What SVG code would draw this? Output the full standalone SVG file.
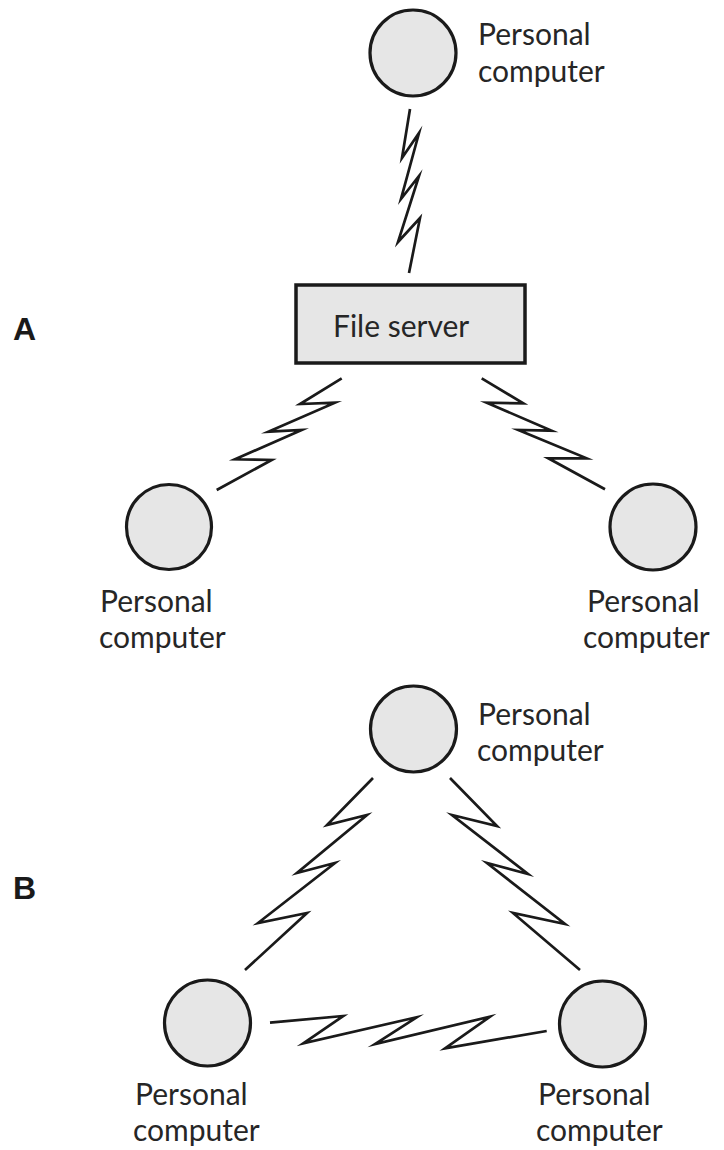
<svg xmlns="http://www.w3.org/2000/svg" width="724" height="1150" viewBox="0 0 724 1150">
<style>
.pc{fill:#e6e6e6;stroke:#1a1a1a;stroke-width:3.2}
.srv{fill:#e6e6e6;stroke:#1a1a1a;stroke-width:3.5}
.lbl{font-family:Lato,"Open Sans","Liberation Sans",sans-serif;font-size:30px;fill:#262626}
.sec{font-family:"Liberation Sans",Arial,sans-serif;font-size:32px;font-weight:bold;fill:#1a1a1a}
.zz{fill:none;stroke:#1a1a1a;stroke-width:2.7;stroke-linejoin:miter;stroke-miterlimit:10}
</style>
<rect width="724" height="1150" fill="#ffffff"/>
<text class="sec" x="13" y="340">A</text>
<text class="sec" x="13" y="899">B</text>
<g id="connectors">
<path class="zz" d="M410,109 L402,158 L419,133 L401,199 L419,176 L398,242 L420,218 L409,273"/>
<path class="zz" d="M341.7,378.3 L300,404 L335,402.7 L268.3,431.7 L301.7,430 L235,459.3 L271.7,460 L216.7,490"/>
<path class="zz" d="M481.7,378.3 L523.3,403.3 L486.7,402.7 L551.7,430.7 L518.3,430 L586.7,458.3 L548.3,458.3 L605,489.3"/>
<path class="zz" d="M373,778 L327,825 L367,815 L297,873 L335,863 L258,923 L307,913 L245,970"/>
<path class="zz" d="M450,778 L497,826 L452,815 L528,874 L487,863 L565,924 L513,913 L580,970"/>
<path class="zz" d="M270,1022.7 L343.3,1016 L303.3,1043.3 L416.7,1017.3 L375,1044 L490,1016.7 L445,1048.3 L546.7,1031"/>
</g>
<g id="pc-a-top">
<circle class="pc" cx="413" cy="53" r="43"/>
<text class="lbl" x="478" y="45">Personal</text>
<text class="lbl" x="478" y="82">computer</text>
</g>
<g id="file-server">
<rect class="srv" x="296" y="285" width="229" height="78"/>
<text class="lbl" x="333" y="337">File server</text>
</g>
<g id="pc-a-left">
<circle class="pc" cx="169" cy="527" r="42.5"/>
<text class="lbl" x="100" y="612">Personal</text>
<text class="lbl" x="99" y="648">computer</text>
</g>
<g id="pc-a-right">
<circle class="pc" cx="653" cy="527" r="43"/>
<text class="lbl" x="587" y="612">Personal</text>
<text class="lbl" x="583" y="648">computer</text>
</g>
<g id="pc-b-top">
<circle class="pc" cx="413.5" cy="729" r="43"/>
<text class="lbl" x="478" y="725">Personal</text>
<text class="lbl" x="477" y="761">computer</text>
</g>
<g id="pc-b-left">
<circle class="pc" cx="207.5" cy="1023" r="43"/>
<text class="lbl" x="135" y="1105">Personal</text>
<text class="lbl" x="133" y="1141">computer</text>
</g>
<g id="pc-b-right">
<circle class="pc" cx="602.5" cy="1024" r="43"/>
<text class="lbl" x="538" y="1105">Personal</text>
<text class="lbl" x="536" y="1141">computer</text>
</g>
</svg>
